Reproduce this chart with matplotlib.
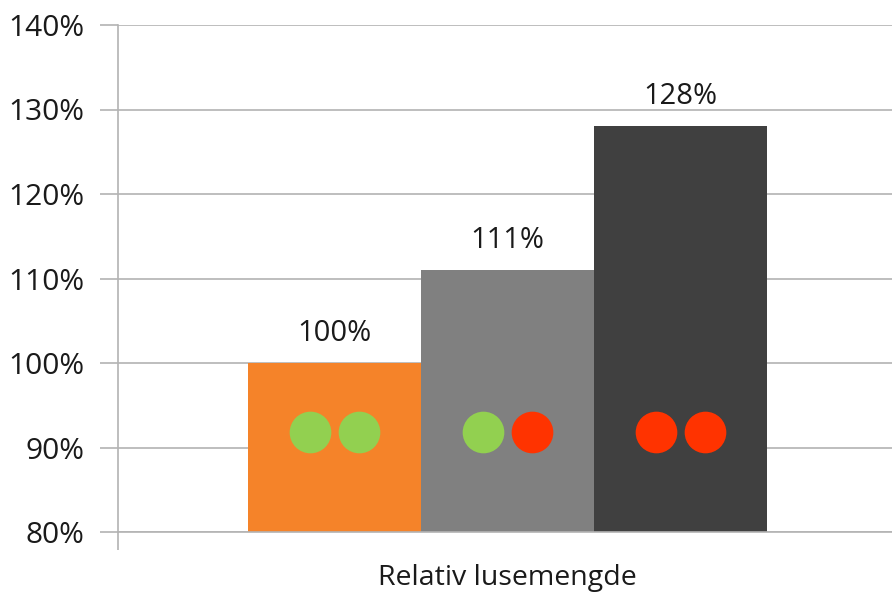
import matplotlib.pyplot as plt

# data
category = 'Relativ lusemengde'
values = [100, 111, 128]
bar_colors = ['#F58329', '#808080', '#404040']
dot_colors = [['#92D050', '#92D050'], ['#92D050', '#FF3300'], ['#FF3300', '#FF3300']]
dot_level = 91.8
yticks = [80, 90, 100, 110, 120, 130, 140]

plt.rcParams['font.family'] = ['Open Sans', 'DejaVu Sans']

fig = plt.figure(figsize=(8.92, 5.93), dpi=100)
ax = fig.add_axes([118 / 892, 61 / 593, 774 / 892, 507 / 593])

x = list(range(len(values)))
ax.bar(x, [v - 80 for v in values], bottom=80, width=1.0, color=bar_colors, zorder=2)

for i, v in enumerate(values):
    ax.text(i, v + 3.5, f'{v}%', ha='center', va='center', fontsize=21, color='#1a1a1a')
    for k, off in enumerate([-0.14, 0.14]):
        ax.scatter(i + off, dot_level, s=900, color=dot_colors[i][k], zorder=3, linewidths=0)

ax.set_ylim(80, 140)
ax.set_xlim(-0.5 - 0.751, 2.5 + 0.7225)
ax.set_yticks(yticks)
ax.set_yticklabels([f'{t}%' for t in yticks], fontsize=21.5, color='#1a1a1a')
ax.yaxis.grid(True, color='#b3b3b3', linewidth=1.2, zorder=0)
ax.set_axisbelow(True)
ax.tick_params(axis='y', length=13, width=1.2, color='#b3b3b3', pad=11)
ax.set_xticks([ax.get_xlim()[0]])
ax.set_xticklabels([''])
ax.tick_params(axis='x', length=13, width=1.2, color='#b3b3b3', direction='out')
ax.text(1, -0.09, category, transform=ax.get_xaxis_transform(), ha='center', va='center',
        fontsize=20.5, color='#1a1a1a')

for side in ['top', 'right']:
    ax.spines[side].set_visible(False)
for side in ['left', 'bottom']:
    ax.spines[side].set_color('#b3b3b3')
    ax.spines[side].set_linewidth(1.2)

fig.savefig('out.png', dpi=100)
